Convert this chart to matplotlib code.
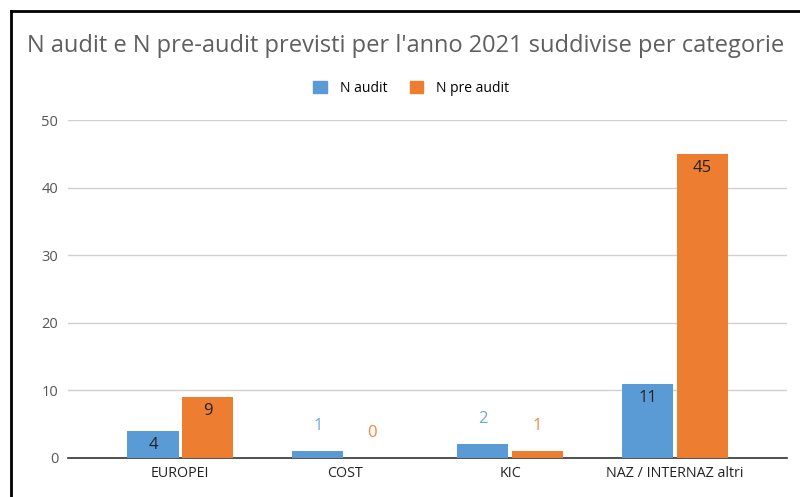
import matplotlib.pyplot as plt
from matplotlib.lines import Line2D
from matplotlib.patches import Patch
import numpy as np

categorie = ['EUROPEI', 'COST', 'KIC', 'NAZ / INTERNAZ altri']
n_audit = [4, 1, 2, 11]
n_pre_audit = [9, 0, 1, 45]

blu = '#5b9bd5'
arancio = '#ed7d31'
blu_chiaro = '#6fa8dc'
arancio_chiaro = '#f0883e'

plt.rcParams['font.family'] = ['Open Sans', 'DejaVu Sans']

fig = plt.figure(figsize=(8, 4.97), dpi=100)
ax = fig.add_axes([0.085, 0.0785, 0.899, 0.68])

x = np.arange(len(categorie))
w = 0.31
off = 0.165
b1 = ax.bar(x - off, n_audit, w, color=blu, zorder=3)
b2 = ax.bar(x + off, n_pre_audit, w, color=arancio, zorder=3)

ax.set_xlim(-0.68, 3.68)
ax.set_ylim(0, 50)
ax.set_yticks([0, 10, 20, 30, 40, 50])
ax.grid(axis='y', color='#d0d0d0', linewidth=1, zorder=0)
for s in ['top', 'right', 'left']:
    ax.spines[s].set_visible(False)
ax.spines['bottom'].set_color('#333333')
ax.spines['bottom'].set_linewidth(1.2)
ax.tick_params(axis='both', length=0)
ax.tick_params(axis='y', colors='#555555', labelsize=10.5, pad=7)
ax.tick_params(axis='x', colors='#222222', labelsize=10.3, pad=6)
ax.set_xticks(x)
ax.set_xticklabels(categorie)

# etichette dei valori: dentro la barra se alta, sopra se bassa
def etichette(bars, valori, col_fuori):
    for b, v in zip(bars, valori):
        cx = b.get_x() + b.get_width() / 2
        if v >= 4:
            ax.annotate(str(v), (cx, v), xytext=(0, -10), textcoords='offset points',
                        ha='center', va='center', fontsize=12, color='#222222', zorder=4)
        else:
            ax.annotate(str(v), (cx, v), xytext=(0, 18), textcoords='offset points',
                        ha='center', va='center', fontsize=12, color=col_fuori, zorder=4)

etichette(b1, n_audit, blu_chiaro)
etichette(b2, n_pre_audit, arancio_chiaro)

fig.text(0.034, 0.907, "N audit e N pre-audit previsti per l'anno 2021 suddivise per categorie",
         fontsize=17, color='#5f5f5f', va='center', ha='left')

handles = [Patch(color=blu), Patch(color=arancio)]
fig.legend(handles, ['N audit', 'N pre audit'], loc='center', bbox_to_anchor=(0.514, 0.822),
           ncol=2, frameon=False, fontsize=10, handlelength=1, handleheight=1,
           columnspacing=1.6, handletextpad=0.9)

# cornice nera dello screenshot
fig.add_artist(Line2D([0.014, 0.014], [0, 0.978], color='black', linewidth=2))
fig.add_artist(Line2D([0.014, 1], [0.978, 0.978], color='black', linewidth=2))

fig.savefig('out.png', dpi=100)
